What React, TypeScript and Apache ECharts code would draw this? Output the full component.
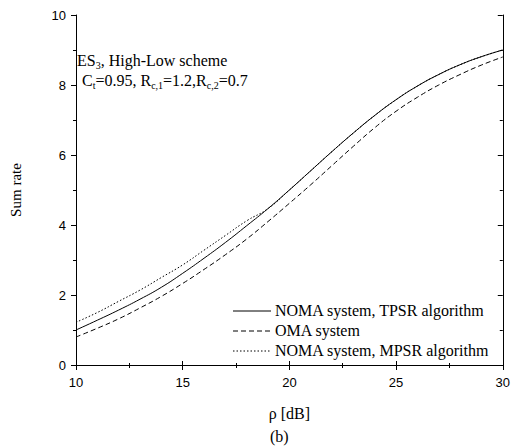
import React, { useEffect, useRef } from "react";
import * as echarts from "echarts";

const rho = [10, 11, 12, 13, 14, 15, 16, 17, 18, 19, 20, 21, 22, 23, 24, 25, 26, 27, 28, 29, 30];
const tpsr = [1.0, 1.28, 1.57, 1.88, 2.22, 2.62, 3.05, 3.5, 3.98, 4.47, 5.0, 5.55, 6.1, 6.63, 7.13, 7.58, 7.97, 8.3, 8.58, 8.81, 9.0];
const oma = [0.8, 1.05, 1.32, 1.63, 1.96, 2.33, 2.73, 3.15, 3.6, 4.1, 4.62, 5.15, 5.7, 6.25, 6.78, 7.25, 7.65, 8.0, 8.3, 8.57, 8.8];
const mpsr = [1.22, 1.5, 1.82, 2.14, 2.5, 2.86, 3.28, 3.7, 4.12, 4.47, 5.0, 5.55, 6.1, 6.63, 7.13, 7.58, 7.97, 8.3, 8.58, 8.81, 9.0];
const seriesNames = ["NOMA system, TPSR algorithm", "OMA system", "NOMA system, MPSR algorithm"];
const seriesDash: (string | number[])[] = ["solid", [5, 3], [1.5, 2]];

const SERIF = "'Liberation Serif', 'Times New Roman', serif";
const SANS = "'Liberation Sans', Arial, sans-serif";

export default function App() {
  const ref = useRef<HTMLDivElement>(null);
  useEffect(() => {
    document.body.style.margin = "0";
    if (!ref.current) return;
    const chart = echarts.init(ref.current, undefined, { renderer: "svg" });
    const pair = (ys: number[]) => rho.map((x, i) => [x, ys[i]]);
    const axisCommon = {
      axisLine: { show: true, lineStyle: { color: "#000", width: 1 } },
      splitLine: { show: false },
    };
    const legendGraphics: any[] = [];
    seriesNames.forEach((name, i) => {
      const cy = 311 + i * 20;
      legendGraphics.push({
        type: "line",
        shape: { x1: 233, y1: cy, x2: 271, y2: cy },
        style: { stroke: "#000", lineWidth: 1, lineDash: seriesDash[i] === "solid" ? null : seriesDash[i] },
      });
      legendGraphics.push({
        type: "text", left: 275, top: cy - 9,
        style: { text: name, fontFamily: SERIF, fontSize: 16, fill: "#000" },
      });
    });
    chart.setOption({
      animation: false,
      backgroundColor: "#fff",
      grid: { left: 72, right: 7, top: 15, bottom: 83, containLabel: false },
      xAxis: [
        {
          type: "value", min: 10, max: 30, interval: 5, position: "bottom",
          ...axisCommon,
          axisTick: { show: true, inside: false, length: 5, lineStyle: { color: "#000" } },
          minorTick: { show: true, splitNumber: 2, length: 3, lineStyle: { color: "#000" } },
          axisLabel: { color: "#000", fontFamily: SANS, fontSize: 13, margin: 11 },
          name: "ρ [dB]", nameLocation: "middle", nameGap: 40,
          nameTextStyle: { color: "#000", fontFamily: SERIF, fontSize: 16 },
        },
        {
          type: "value", min: 10, max: 30, interval: 5, position: "top",
          ...axisCommon,
          axisTick: { show: true, inside: false, length: 4, lineStyle: { color: "#000" } },
          minorTick: { show: true, splitNumber: 2, length: 2, lineStyle: { color: "#000" } },
          axisLabel: { show: false },
        },
      ],
      yAxis: [
        {
          type: "value", min: 0, max: 10, interval: 2, position: "left",
          ...axisCommon,
          axisTick: { show: true, inside: false, length: 5, lineStyle: { color: "#000" } },
          minorTick: { show: true, splitNumber: 2, length: 3, lineStyle: { color: "#000" } },
          axisLabel: { color: "#000", fontFamily: SANS, fontSize: 13, margin: 10 },
          name: "Sum rate", nameLocation: "middle", nameGap: 53, nameRotate: 90,
          nameTextStyle: { color: "#000", fontFamily: SERIF, fontSize: 15 },
        },
        {
          type: "value", min: 0, max: 10, interval: 2, position: "right",
          ...axisCommon,
          axisTick: { show: true, inside: true, length: 5, lineStyle: { color: "#000" } },
          minorTick: { show: true, splitNumber: 2, length: 3, lineStyle: { color: "#000" } },
          axisLabel: { show: false },
        },
      ],
      series: [
        {
          name: seriesNames[0], type: "line", data: pair(tpsr), smooth: true, symbol: "none",
          lineStyle: { color: "#000", width: 1, type: seriesDash[0] }, z: 3,
        },
        {
          name: seriesNames[1], type: "line", data: pair(oma), smooth: true, symbol: "none",
          lineStyle: { color: "#000", width: 1, type: seriesDash[1] },
        },
        {
          name: seriesNames[2], type: "line", data: pair(mpsr), smooth: true, symbol: "none",
          lineStyle: { color: "#000", width: 1, type: seriesDash[2] },
        },
      ],
      graphic: [
        {
          type: "text", left: 77, top: 52,
          style: {
            text: "{a|ES}{s|3}{a|, High-Low scheme}",
            rich: {
              a: { fontFamily: SERIF, fontSize: 16, fill: "#000" },
              s: { fontFamily: SERIF, fontSize: 10, fill: "#000", padding: [10, 0, 0, 0] },
            },
          },
        },
        {
          type: "text", left: 82, top: 72,
          style: {
            text: "{a|C}{s|t}{a|=0.95, R}{s|c,1}{a|=1.2,R}{s|c,2}{a|=0.7}",
            rich: {
              a: { fontFamily: SERIF, fontSize: 16, fill: "#000" },
              s: { fontFamily: SERIF, fontSize: 10, fill: "#000", padding: [10, 0, 0, 0] },
            },
          },
        },
        {
          type: "text", left: 270, top: 428,
          style: { text: "(b)", fontFamily: SERIF, fontSize: 16, fill: "#000" },
        },
        ...legendGraphics,
      ],
    });
    return () => chart.dispose();
  }, []);
  return <div ref={ref} style={{ width: 513, height: 448 }} />;
}
